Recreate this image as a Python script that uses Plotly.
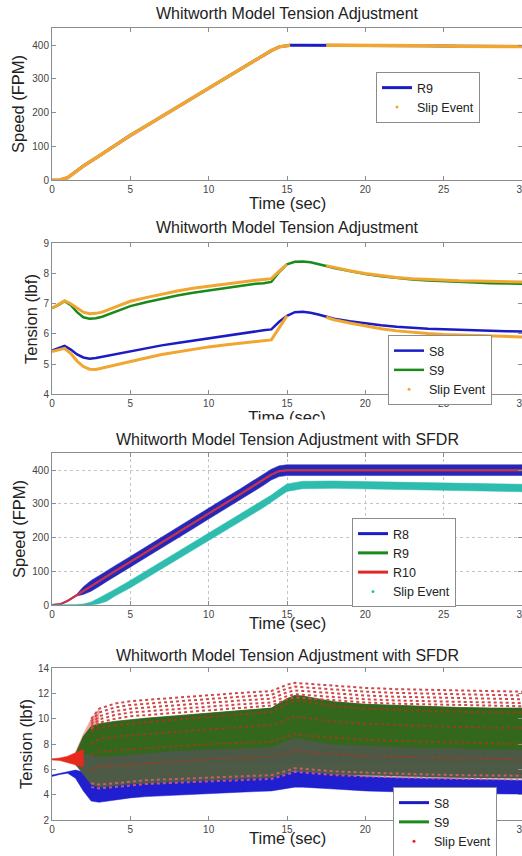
import plotly.graph_objects as go

# ---------------- Panel 1 data ----------------
t1 = [0, 0.5, 1, 1.5, 2, 3, 4, 5, 6, 7, 8, 9, 10, 11, 12, 13, 13.5, 14, 14.5, 15, 15.2, 16, 17, 17.5, 18, 19, 20, 22, 24, 26, 28, 30]
r9_speed = [0, 1, 8, 25, 42, 72, 103, 133, 161, 189, 217, 245, 273, 301, 329, 355, 369, 384, 395, 399, 400, 400, 400, 400, 400, 399, 399, 398, 398, 397, 397, 396]
slip_speed1 = [0, 1, 8, 25, 42, 72, 103, 133, 161, 189, 217, 245, 273, 301, 329, 355, 369, 384, 395, 399, 400, None, None, 400, 400, 399, 399, 398, 398, 397, 397, 396]

# ---------------- Panel 2 data ----------------
t2 = [0, 0.4, 0.8, 1.2, 1.6, 2.0, 2.4, 2.8, 3.2, 4, 5, 6, 7, 8, 9, 10, 11, 12, 13, 13.5, 14, 14.5, 15, 15.5, 16, 16.5, 17, 17.5, 18, 19, 20, 21, 22, 23, 24, 25, 26, 27, 28, 29, 30]
s8_t = [5.45, 5.52, 5.6, 5.48, 5.32, 5.22, 5.18, 5.2, 5.24, 5.33, 5.42, 5.52, 5.62, 5.7, 5.78, 5.86, 5.94, 6.02, 6.1, 6.12, 6.15, 6.4, 6.6, 6.72, 6.73, 6.7, 6.64, 6.56, 6.5, 6.42, 6.35, 6.29, 6.24, 6.2, 6.17, 6.15, 6.13, 6.11, 6.1, 6.09, 6.08]
s8_slip = [5.42, 5.48, 5.52, 5.35, 5.1, 4.92, 4.83, 4.82, 4.87, 4.97, 5.09, 5.2, 5.32, 5.41, 5.5, 5.57, 5.63, 5.69, 5.74, 5.76, 5.8, 6.2, 6.6, None, None, None, None, 6.55, 6.47, 6.36, 6.26, 6.17, 6.1, 6.05, 6.01, 5.98, 5.96, 5.94, 5.92, 5.91, 5.9]
s9_t = [6.85, 6.95, 7.08, 6.95, 6.72, 6.55, 6.5, 6.52, 6.57, 6.72, 6.92, 7.05, 7.17, 7.27, 7.36, 7.44, 7.52, 7.6, 7.66, 7.68, 7.72, 8.05, 8.3, 8.39, 8.4, 8.37, 8.32, 8.25, 8.18, 8.07, 7.98, 7.91, 7.85, 7.8, 7.77, 7.74, 7.72, 7.7, 7.68, 7.67, 7.66]
s9_slip = [6.85, 6.97, 7.1, 7.0, 6.85, 6.72, 6.67, 6.68, 6.72, 6.88, 7.08, 7.2, 7.32, 7.42, 7.51, 7.58, 7.65, 7.72, 7.78, 7.8, 7.83, 8.08, 8.3, None, None, None, None, 8.26, 8.2, 8.09, 8.0, 7.93, 7.87, 7.83, 7.8, 7.78, 7.76, 7.75, 7.74, 7.73, 7.72]

# ---------------- Panel 3 data ----------------
t3 = [0, 0.5, 1, 1.5, 2, 2.5, 3, 3.5, 4, 5, 6, 7, 8, 9, 10, 11, 12, 13, 13.5, 14, 14.5, 15, 16, 18, 20, 22, 24, 26, 28, 30]
r10_speed = [0, 2, 12, 27, 42, 57, 71, 86, 100, 128, 157, 185, 214, 242, 271, 300, 328, 357, 371, 387, 397, 400, 400, 400, 400, 400, 400, 400, 400, 400]
r9_speed3 = [0, 2, 12, 27, 42, 57, 71, 86, 100, 128, 157, 185, 214, 242, 271, 300, 328, 357, 371, 387, 397, 400, 400, 400, 400, 400, 400, 400, 400, 400]
r8_hi = [0, 2, 12, 28, 54, 73, 87, 102, 116, 144, 173, 201, 230, 258, 287, 316, 344, 373, 387, 403, 413, 416, 416, 416, 416, 416, 416, 416, 416, 416]
r8_lo = [0, 2, 12, 26, 31, 41, 55, 70, 84, 112, 141, 169, 198, 226, 255, 284, 312, 341, 355, 371, 381, 384, 384, 384, 384, 384, 384, 384, 384, 384]
slip3_hi = [0, 0, 0, 1, 3, 9, 21, 33, 46, 73, 101, 129, 157, 185, 213, 241, 269, 297, 311, 326, 343, 359, 367, 368, 366, 364, 363, 361, 360, 358]
slip3_lo = [0, 0, 0, 0, 0, 0, 4, 11, 26, 51, 79, 107, 135, 163, 191, 219, 247, 275, 289, 304, 321, 337, 345, 346, 344, 342, 341, 339, 338, 336]

# ---------------- Panel 4 data ----------------
t4 = [0, 0.5, 1, 1.5, 2, 2.5, 3, 4, 5, 6, 8, 10, 12, 14, 15, 15.5, 16, 17, 18, 20, 22, 24, 26, 28, 30]
s8_hi4 = [5.55, 5.7, 5.85, 5.95, 5.8, 5.3, 4.9, 4.95, 5.0, 5.05, 5.1, 5.2, 5.3, 5.4, 5.7, 5.85, 5.85, 5.75, 5.6, 5.45, 5.35, 5.3, 5.25, 5.2, 5.15]
s8_lo4 = [5.45, 5.6, 5.7, 5.3, 4.3, 3.5, 3.4, 3.6, 3.75, 3.85, 4.0, 4.1, 4.2, 4.3, 4.5, 4.6, 4.6, 4.55, 4.45, 4.3, 4.2, 4.15, 4.1, 4.05, 4.05]
t9 = [1.5, 2, 2.5, 3, 4, 5, 6, 8, 10, 12, 14, 15, 15.5, 16, 17, 18, 20, 22, 24, 26, 28, 30]
s9_hi4 = [7.2, 8.6, 9.4, 9.6, 9.8, 9.95, 10.05, 10.25, 10.45, 10.6, 10.85, 11.6, 11.85, 11.8, 11.55, 11.35, 11.15, 11.05, 10.95, 10.9, 10.85, 10.85]
s9_mid4 = [6.8, 7.2, 7.2, 7.0, 7.1, 7.2, 7.3, 7.5, 7.6, 7.7, 7.8, 8.3, 8.5, 8.4, 8.2, 8.0, 7.9, 7.8, 7.7, 7.7, 7.6, 7.6]
s9_lo4 = [6.4, 5.6, 4.8, 4.6, 4.7, 4.85, 4.95, 5.05, 5.15, 5.25, 5.35, 5.7, 5.9, 5.85, 5.75, 5.6, 5.5, 5.45, 5.4, 5.35, 5.3, 5.3]
te = [0, 0.5, 1, 1.5, 2]
slip_early_hi = [6.85, 6.9, 7.05, 7.3, 7.6]
slip_early_lo = [6.75, 6.7, 6.55, 6.35, 6.2]
tsp = [1.5, 2, 2.5, 3]
slip_spike_hi = [7.4, 8.8, 10.0, 10.8]
slip_spike_lo = [6.3, 6.0, 5.8, 5.6]
tr = [2.5, 3, 4, 5, 6, 8, 10, 12, 14, 15, 15.5, 16, 18, 20, 22, 24, 26, 28, 30]
slip_row1 = [10.0, 10.8, 11.2, 11.4, 11.5, 11.7, 11.9, 12.05, 12.2, 12.7, 12.85, 12.8, 12.6, 12.45, 12.35, 12.3, 12.25, 12.2, 12.15]
slip_row2 = [9.8, 10.5, 10.9, 11.1, 11.2, 11.4, 11.6, 11.75, 11.9, 12.4, 12.55, 12.5, 12.3, 12.15, 12.05, 12.0, 11.95, 11.9, 11.85]
slip_row3 = [9.6, 10.2, 10.6, 10.8, 10.9, 11.1, 11.3, 11.45, 11.6, 12.1, 12.25, 12.2, 12.0, 11.85, 11.75, 11.7, 11.65, 11.6, 11.55]
slip_row4 = [9.4, 9.95, 10.3, 10.5, 10.6, 10.8, 11.0, 11.15, 11.3, 11.8, 11.95, 11.9, 11.7, 11.55, 11.45, 11.4, 11.35, 11.3, 11.25]
slip_row5 = [9.2, 9.7, 10.0, 10.2, 10.3, 10.5, 10.7, 10.85, 11.05, 11.55, 11.7, 11.65, 11.45, 11.3, 11.2, 11.15, 11.1, 11.05, 11.0]
slip_in1 = [9.0, 9.3, 9.5, 9.65, 9.75, 9.95, 10.15, 10.3, 10.55, 11.2, 11.45, 11.4, 11.0, 10.8, 10.7, 10.6, 10.55, 10.5, 10.5]
slip_in2 = [8.0, 8.4, 8.6, 8.7, 8.8, 9.0, 9.2, 9.35, 9.5, 10.0, 10.2, 10.1, 9.8, 9.6, 9.5, 9.4, 9.35, 9.3, 9.3]
slip_in3 = [7.2, 7.4, 7.5, 7.6, 7.7, 7.85, 8.0, 8.1, 8.2, 8.6, 8.8, 8.7, 8.5, 8.35, 8.25, 8.2, 8.1, 8.05, 8.0]
slip_in4 = [6.0, 6.2, 6.3, 6.4, 6.5, 6.65, 6.8, 6.9, 7.0, 7.3, 7.45, 7.4, 7.2, 7.05, 7.0, 6.95, 6.9, 6.85, 6.8]
slip_pink1 = [4.6, 4.5, 4.6, 4.75, 4.85, 4.95, 5.05, 5.15, 5.25, 5.6, 5.8, 5.75, 5.55, 5.45, 5.35, 5.3, 5.25, 5.2, 5.2]
slip_pink2 = [4.9, 4.8, 4.9, 5.05, 5.15, 5.25, 5.35, 5.45, 5.55, 5.9, 6.1, 6.05, 5.85, 5.75, 5.65, 5.6, 5.55, 5.5, 5.5]

titles = ["Whitworth Model Tension Adjustment", "Whitworth Model Tension Adjustment",
          "Whitworth Model Tension Adjustment with SFDR", "Whitworth Model Tension Adjustment with SFDR"]

BLUE = "#1c1cc4"
GREEN = "#1a8a1a"
ORANGE = "#f0a630"
RED = "#e02828"
CYAN = "#2ec4b6"
FONT = "Liberation Sans, Arial, sans-serif"

H = 856
def py(p):
    return 1 - p / H

fig = go.Figure()

def band(t, hi, lo, color, xa, ya, opacity=1.0):
    fig.add_trace(go.Scatter(x=t + t[::-1], y=hi + lo[::-1], fill="toself", fillcolor=color,
                             line=dict(color=color, width=0.5), mode="lines", opacity=opacity,
                             showlegend=False, hoverinfo="skip", xaxis=xa, yaxis=ya))

# Panel 1
fig.add_trace(go.Scatter(x=t1, y=r9_speed, mode="lines", name="R9", line=dict(color=BLUE, width=3),
                         legend="legend", xaxis="x", yaxis="y"))
fig.add_trace(go.Scatter(x=t1, y=slip_speed1, mode="lines", showlegend=False, connectgaps=False,
                         line=dict(color=ORANGE, width=3.5), xaxis="x", yaxis="y"))
fig.add_trace(go.Scatter(x=[None], y=[None], mode="markers", name="Slip Event",
                         marker=dict(color=ORANGE, size=3), legend="legend", xaxis="x", yaxis="y"))

# Panel 2
fig.add_trace(go.Scatter(x=t2, y=s8_t, mode="lines", name="S8", line=dict(color=BLUE, width=2.5),
                         legend="legend2", xaxis="x2", yaxis="y2"))
fig.add_trace(go.Scatter(x=t2, y=s9_t, mode="lines", name="S9", line=dict(color=GREEN, width=2.5),
                         legend="legend2", xaxis="x2", yaxis="y2"))
fig.add_trace(go.Scatter(x=t2, y=s8_slip, mode="lines", showlegend=False, line=dict(color=ORANGE, width=3),
                         xaxis="x2", yaxis="y2"))
fig.add_trace(go.Scatter(x=t2, y=s9_slip, mode="lines", showlegend=False, line=dict(color=ORANGE, width=3),
                         xaxis="x2", yaxis="y2"))
fig.add_trace(go.Scatter(x=[None], y=[None], mode="markers", name="Slip Event",
                         marker=dict(color=ORANGE, size=3), legend="legend2", xaxis="x2", yaxis="y2"))
# partially hidden x-title of panel 2 (on a hidden helper axis, then partly covered by a white band)
fig.add_trace(go.Scatter(x=[15], y=[0.5], mode="text", text=["Time (sec)"], cliponaxis=False,
                         textposition="middle center",
                         textfont=dict(size=16.5, color="#222", family=FONT), showlegend=False,
                         hoverinfo="skip", xaxis="x5", yaxis="y5"))

# Panel 3
band(t3, r8_hi, r8_lo, "#2626b8", "x3", "y3")
fig.add_trace(go.Scatter(x=t3, y=r9_speed3, mode="lines", showlegend=False, line=dict(color=GREEN, width=2),
                         xaxis="x3", yaxis="y3"))
fig.add_trace(go.Scatter(x=t3, y=r10_speed, mode="lines", showlegend=False, line=dict(color="#d8285a", width=2),
                         xaxis="x3", yaxis="y3"))
band(t3, slip3_hi, slip3_lo, "#2dbcae", "x3", "y3")
for nm, col in [("R8", BLUE), ("R9", GREEN), ("R10", RED)]:
    fig.add_trace(go.Scatter(x=[None], y=[None], mode="lines", name=nm, line=dict(color=col, width=3),
                             legend="legend3", xaxis="x3", yaxis="y3"))
fig.add_trace(go.Scatter(x=[None], y=[None], mode="markers", name="Slip Event",
                         marker=dict(color=CYAN, size=3), legend="legend3", xaxis="x3", yaxis="y3"))

# Panel 4
band(t4, s8_hi4, s8_lo4, "#1f1fd0", "x4", "y4")
band(tsp, slip_spike_hi, slip_spike_lo, "#e23a2a", "x4", "y4", opacity=0.45)
band(t9, s9_hi4, s9_lo4, "#4c5a46", "x4", "y4")
band(t9, s9_hi4, s9_mid4, "#33681c", "x4", "y4")
band(te, slip_early_hi, slip_early_lo, "#e82a1c", "x4", "y4")
for row in [slip_in1, slip_in2, slip_in3, slip_in4]:
    fig.add_trace(go.Scatter(x=tr, y=row, mode="lines", showlegend=False, opacity=0.7,
                             line=dict(color="#b8321e", width=2, dash="dot"), xaxis="x4", yaxis="y4"))
for row in [slip_pink1, slip_pink2]:
    fig.add_trace(go.Scatter(x=tr, y=row, mode="lines", showlegend=False, opacity=0.8,
                             line=dict(color="#e86078", width=2, dash="dot"), xaxis="x4", yaxis="y4"))
for row in [slip_row1, slip_row2, slip_row3, slip_row4, slip_row5]:
    fig.add_trace(go.Scatter(x=tr, y=row, mode="lines", showlegend=False,
                             line=dict(color="#d04848", width=2, dash="dot"), xaxis="x4", yaxis="y4"))
fig.add_trace(go.Scatter(x=[None], y=[None], mode="lines", name="S8", line=dict(color=BLUE, width=3),
                         legend="legend4", xaxis="x4", yaxis="y4"))
fig.add_trace(go.Scatter(x=[None], y=[None], mode="lines", name="S9", line=dict(color=GREEN, width=3),
                         legend="legend4", xaxis="x4", yaxis="y4"))
fig.add_trace(go.Scatter(x=[None], y=[None], mode="markers", name="Slip Event",
                         marker=dict(color=RED, size=3), legend="legend4", xaxis="x4", yaxis="y4"))

# axes
ax = dict(showline=True, linecolor="#8c8c8c", linewidth=1, mirror="ticks", ticks="inside", ticklen=4,
          tickcolor="#8c8c8c", showgrid=False, zeroline=False, ticklabeloverflow="allow",
          tickfont=dict(size=10, color="#444", family=FONT))
xticks = [0, 5, 10, 15, 20, 25, 30]
domains = [(28.3, 180.3), (243.3, 394.3), (453.3, 605), (668.3, 820)]
yranges = [[0, 450], [4, 9], [0, 450], [2, 14]]
yticks = [[0, 100, 200, 300, 400], [4, 5, 6, 7, 8, 9], [0, 100, 200, 300, 400], [2, 4, 6, 8, 10, 12, 14]]
layout = {}
for i in range(4):
    sfx = "" if i == 0 else str(i + 1)
    top, bot = domains[i]
    grid = dict(showgrid=True, gridcolor="#c4c4c4", griddash="dot", gridwidth=1) if i == 2 else {}
    layout["xaxis" + sfx] = dict(ax, domain=[0, 1], range=[0, 30], tickvals=xticks,
                                 anchor="y" + sfx, **grid)
    layout["yaxis" + sfx] = dict(ax, domain=[py(bot), py(top)], range=yranges[i], tickvals=yticks[i],
                                 anchor="x" + sfx, **grid)
# helper axes for the clipped label of panel 2 (label center at ~418 px)
layout["xaxis5"] = dict(domain=[0, 1], range=[0, 30], showline=False, showgrid=False, zeroline=False,
                        showticklabels=False, ticks="", anchor="y5")
layout["yaxis5"] = dict(domain=[py(437), py(401)], range=[0, 1], showline=False, showgrid=False,
                        zeroline=False, showticklabels=False, ticks="", anchor="x5")
fig.update_layout(**layout)

ann = []
title_y = [14, 228, 440, 655]
for i in range(4):
    ann.append(dict(text=titles[i], x=0.5, y=py(title_y[i]), xref="paper", yref="paper",
                    xanchor="center", yanchor="middle", showarrow=False,
                    font=dict(size=16, color="#222", family=FONT)))
for yy in [203, 623, 838]:
    ann.append(dict(text="Time (sec)", x=0.5, y=py(yy), xref="paper", yref="paper",
                    xanchor="center", yanchor="middle", showarrow=False,
                    font=dict(size=16.5, color="#222", family=FONT)))
ylab = [("Speed (FPM)", 18, 104), ("Tension (lbf)", 31, 319), ("Speed (FPM)", 19, 529), ("Tension (lbf)", 26, 744)]
for txt, xx, yy in ylab:
    ann.append(dict(text=txt, x=(xx - 52) / 470, y=py(yy), xref="paper", yref="paper", textangle=-90,
                    xanchor="center", yanchor="middle", showarrow=False,
                    font=dict(size=16.5, color="#222", family=FONT)))

leg = dict(bgcolor="white", bordercolor="#8c8c8c", borderwidth=1, xanchor="left", yanchor="top",
           font=dict(size=12.5, color="#222", family=FONT), itemwidth=30, tracegroupgap=0)
fig.update_layout(
    width=522, height=856,
    margin=dict(l=52, r=0, t=0, b=0, autoexpand=False),
    paper_bgcolor="white", plot_bgcolor="white",
    showlegend=True,
    annotations=ann,
    legend=dict(leg, x=(376 - 52) / 470, y=py(72)),
    legend2=dict(leg, x=(388 - 52) / 470, y=py(335)),
    legend3=dict(leg, x=(352 - 52) / 470, y=py(518)),
    legend4=dict(leg, x=(393 - 52) / 470, y=py(787)),
    shapes=[dict(type="rect", xref="paper", yref="paper", x0=-0.2, x1=1.1, y0=py(452), y1=py(419.5),
                 fillcolor="white", line=dict(width=0), layer="above")],
)
fig.write_html("out.html", config={"displayModeBar": False},
               post_script="document.body.style.margin='0';document.body.style.overflow='hidden';")
